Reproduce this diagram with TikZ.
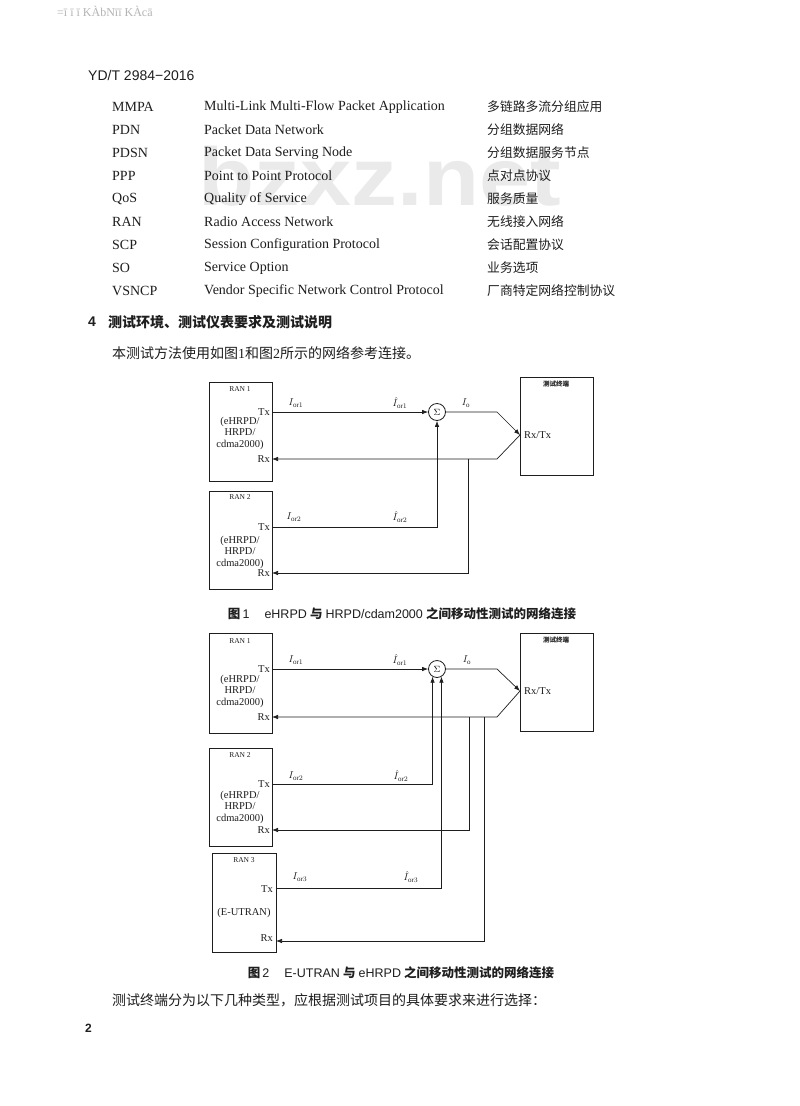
\documentclass[tikz,border=0pt]{standalone}
\usepackage{fontspec}
\setmainfont{Liberation Serif}
\newfontfamily\cjk{Noto Sans CJK SC}
\newfontfamily\arial{Liberation Sans}
\usetikzlibrary{arrows.meta,calc}
\definecolor{ink}{HTML}{1E1E1E}
\definecolor{wm}{HTML}{EAEAEA}
\definecolor{junk}{HTML}{B4B4B4}
\begin{document}
\begin{tikzpicture}[x=1pt,y=-1pt,
  txt/.style={anchor=west,inner sep=0pt,text=ink},
  row/.style={txt,font=\fontsize{14}{14}\selectfont},
  rowzh/.style={txt,font=\cjk\fontsize{12.8}{13}\selectfont},
  box/.style={draw=ink,line width=0.8pt,anchor=north west,inner sep=0pt},
  wire/.style={draw=ink,line width=0.7pt},
  arr/.style={wire,-{Latex[length=6pt,width=4.5pt]}},
  sumnode/.style={circle,draw=ink,line width=0.8pt,minimum size=17pt,inner sep=0pt,font=\fontsize{9.5}{9.5}\selectfont},
  ranlbl/.style={inner sep=0pt,text=ink,font=\fontsize{7.5}{8}\selectfont},
  port/.style={anchor=east,inner sep=0pt,text=ink,font=\fontsize{10.5}{11}\selectfont},
  info/.style={inner sep=0pt,align=center,text=ink,font=\fontsize{10.5}{11.5}\selectfont},
  sig/.style={inner sep=0pt,text=ink,font=\fontsize{10}{10}\selectfont},
  termlbl/.style={inner sep=0pt,text=ink,font=\cjk\bfseries\fontsize{6.5}{7}\selectfont},
  figcap/.style={inner sep=0pt,text=ink,font=\fontsize{12.5}{13}\selectfont},
]
\useasboundingbox[fill=white] (0,0) rectangle (800,1106);

% watermark and scan noise
\node[inner sep=0pt,text=wm,font=\arial\bfseries\fontsize{82}{82}\selectfont] (wmark) at (380,176) {\scalebox{1.12}[1]{bzxz.net}};
\node[txt,text=junk,font=\fontsize{12}{12}\selectfont] (noise) at (57,11) {=ī ī ī KÀbNīī KÀcā};

% header
\node[txt,font=\arial\fontsize{14}{14}\selectfont] (hdr) at (88,75) {YD/T 2984−2016};

% abbreviation table
\node[row] (a1) at (112,107) {MMPA};
\node[row] (b1) at (204,107) {Multi-Link Multi-Flow Packet Application};
\node[rowzh] (c1) at (487,107) {多链路多流分组应用};
\node[row] (a2) at (112,130) {PDN};
\node[row] (b2) at (204,130) {Packet Data Network};
\node[rowzh] (c2) at (487,130) {分组数据网络};
\node[row] (a3) at (112,153) {PDSN};
\node[row] (b3) at (204,153) {Packet Data Serving Node};
\node[rowzh] (c3) at (487,153) {分组数据服务节点};
\node[row] (a4) at (112,176) {PPP};
\node[row] (b4) at (204,176) {Point to Point Protocol};
\node[rowzh] (c4) at (487,176) {点对点协议};
\node[row] (a5) at (112,199) {QoS};
\node[row] (b5) at (204,199) {Quality of Service};
\node[rowzh] (c5) at (487,199) {服务质量};
\node[row] (a6) at (112,222) {RAN};
\node[row] (b6) at (204,222) {Radio Access Network};
\node[rowzh] (c6) at (487,222) {无线接入网络};
\node[row] (a7) at (112,245) {SCP};
\node[row] (b7) at (204,245) {Session Configuration Protocol};
\node[rowzh] (c7) at (487,245) {会话配置协议};
\node[row] (a8) at (112,268) {SO};
\node[row] (b8) at (204,268) {Service Option};
\node[rowzh] (c8) at (487,268) {业务选项};
\node[row] (a9) at (112,291) {VSNCP};
\node[row] (b9) at (204,291) {Vendor Specific Network Control Protocol};
\node[rowzh] (c9) at (487,291) {厂商特定网络控制协议};

% section heading and paragraph
\node[txt,font=\arial\bfseries\fontsize{14}{14}\selectfont] (secno) at (88,322) {4};
\node[txt,font=\cjk\bfseries\fontsize{14}{14}\selectfont] (sec) at (108,322) {测试环境、测试仪表要求及测试说明};
\node[txt,font=\fontsize{14}{14}\selectfont] (para1) at (112,353) {\cjk 本测试方法使用如图\rmfamily 1\cjk 和图\rmfamily 2\cjk 所示的网络参考连接。};

% ================= Figure 1 =================
\node[box,minimum width=63pt,minimum height=99pt] (r1) at (209,382) {};
\node[box,minimum width=63pt,minimum height=98pt] (r2) at (209,491) {};
\node[box,minimum width=73pt,minimum height=98pt] (t1) at (520,377) {};
\node[sumnode] (s1) at (437,412) {$\Sigma$};

\node[ranlbl] (r1n) at (240,389) {RAN 1};
\node[port] (r1t) at (270,412) {Tx};
\node[port] (r1r) at (270,459) {Rx};
\node[info] (r1i) at (240,433) {(eHRPD/\\HRPD/\\cdma2000)};
\node[ranlbl] (r2n) at (240,497) {RAN 2};
\node[port] (r2t) at (270,527) {Tx};
\node[port] (r2r) at (270,573) {Rx};
\node[info] (r2i) at (240,552) {(eHRPD/\\HRPD/\\cdma2000)};
\node[termlbl] (t1n) at (556,384) {测试终端};
\node[port,anchor=west] (t1x) at (524,435) {Rx/Tx};

\coordinate (r1tx) at (272,412);
\coordinate (r1rx) at (272,459);
\coordinate (r2tx) at (272,527);
\coordinate (r2rx) at (272,573);
\coordinate (b1a) at (497,412);
\coordinate (b1b) at (497,459);
\coordinate (t1p) at (520,435);
\coordinate (j1) at (468,459);

\draw[arr] (r1tx) -- (s1.west);
\draw[arr] (s1.east) -- (b1a) -- (t1p);
\draw[arr] (t1p) -- (b1b) -- (r1rx);
\draw[arr] (r2tx) -| (s1.south);
\draw[arr] (j1) |- (r2rx);

\node[sig] (l11) at (296,403) {$I_{\mathrm{or}1}$};
\node[sig] (l12) at (400,403) {$\hat{I}_{\mathrm{or}1}$};
\node[sig] (l13) at (466,403) {$I_{\mathrm{o}}$};
\node[sig] (l14) at (294,517) {$I_{\mathrm{or}2}$};
\node[sig] (l15) at (400,517) {$\hat{I}_{\mathrm{or}2}$};

\node[figcap] (cap1) at (402,614) {{\cjk\bfseries 图}\,{\arial 1}\hspace{1.2em}{\arial eHRPD} {\cjk\bfseries 与} {\arial HRPD/cdam2000} {\cjk\bfseries 之间移动性测试的网络连接}};

% ================= Figure 2 =================
\node[box,minimum width=63pt,minimum height=100pt] (r4) at (209,633) {};
\node[box,minimum width=63pt,minimum height=98pt] (r5) at (209,748) {};
\node[box,minimum width=64pt,minimum height=99pt] (r6) at (212,853) {};
\node[box,minimum width=73pt,minimum height=98pt] (t2) at (520,633) {};
\node[sumnode] (s2) at (437,669) {$\Sigma$};

\node[ranlbl] (r4n) at (240,641) {RAN 1};
\node[port] (r4t) at (270,669) {Tx};
\node[port] (r4r) at (270,717) {Rx};
\node[info] (r4i) at (240,691) {(eHRPD/\\HRPD/\\cdma2000)};
\node[ranlbl] (r5n) at (240,755) {RAN 2};
\node[port] (r5t) at (270,784) {Tx};
\node[port] (r5r) at (270,830) {Rx};
\node[info] (r5i) at (240,807) {(eHRPD/\\HRPD/\\cdma2000)};
\node[ranlbl] (r6n) at (244,860) {RAN 3};
\node[port] (r6t) at (273,889) {Tx};
\node[port] (r6r) at (273,938) {Rx};
\node[info] (r6i) at (244,913) {(E-UTRAN)};
\node[termlbl] (t2n) at (556,640) {测试终端};
\node[port,anchor=west] (t2x) at (524,691) {Rx/Tx};

\coordinate (r4tx) at (272,669);
\coordinate (r4rx) at (272,717);
\coordinate (r5tx) at (272,784);
\coordinate (r5rx) at (272,830);
\coordinate (r6tx) at (276,888);
\coordinate (r6rx) at (276,941);
\coordinate (b2a) at (497,669);
\coordinate (b2b) at (497,717);
\coordinate (t2p) at (520,691);
\coordinate (j2) at (469,717);
\coordinate (j3) at (484,717);

\draw[arr] (r4tx) -- (s2.west);
\draw[arr] (s2.east) -- (b2a) -- (t2p);
\draw[arr] (t2p) -- (b2b) -- (r4rx);
\draw[arr] (r5tx) -| (s2.-120);
\draw[arr] (r6tx) -| (s2.-60);
\draw[arr] (j2) |- (r5rx);
\draw[arr] (j3) |- (r6rx);

\node[sig] (l21) at (296,660) {$I_{\mathrm{or}1}$};
\node[sig] (l22) at (400,660) {$\hat{I}_{\mathrm{or}1}$};
\node[sig] (l23) at (467,660) {$I_{\mathrm{o}}$};
\node[sig] (l24) at (296,776) {$I_{\mathrm{or}2}$};
\node[sig] (l25) at (401,776) {$\hat{I}_{\mathrm{or}2}$};
\node[sig] (l26) at (300,877) {$I_{\mathrm{or}3}$};
\node[sig] (l27) at (411,877) {$\hat{I}_{\mathrm{or}3}$};

\node[figcap] (cap2) at (401,973) {{\cjk\bfseries 图}\,{\arial 2}\hspace{1.2em}{\arial E-UTRAN} {\cjk\bfseries 与} {\arial eHRPD} {\cjk\bfseries 之间移动性测试的网络连接}};

% closing paragraph and page number
\node[txt,font=\cjk\fontsize{14}{14}\selectfont] (para2) at (112,1000) {测试终端分为以下几种类型，应根据测试项目的具体要求来进行选择：};
\node[txt,font=\arial\bfseries\fontsize{12}{12}\selectfont] (pgno) at (85,1028) {2};
\end{tikzpicture}
\end{document}
